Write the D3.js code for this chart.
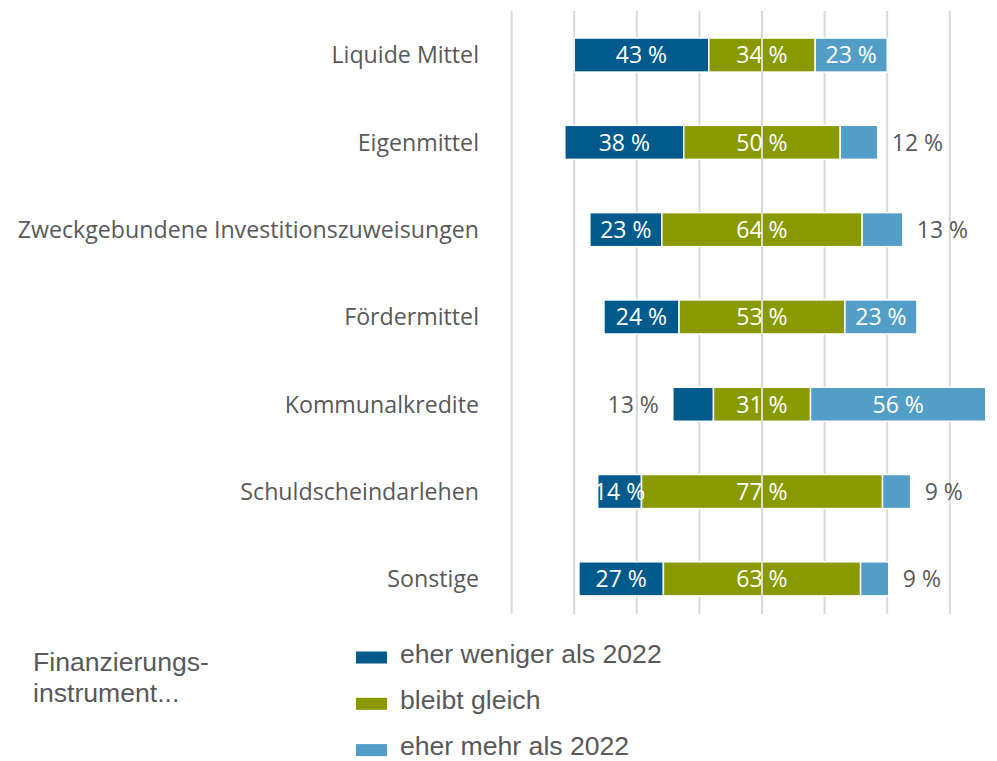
<!DOCTYPE html>
<html>
<head>
<meta charset="utf-8">
<script src="https://cdn.jsdelivr.net/npm/d3@7"></script>
<style>
  body { margin: 0; background: #fff; }
  svg text { fill: #595959; }
</style>
</head>
<body>
<div id="chart"></div>
<script>
// data
var categories = ["Liquide Mittel", "Eigenmittel", "Zweckgebundene Investitionszuweisungen",
  "Fördermittel", "Kommunalkredite", "Schuldscheindarlehen", "Sonstige"];
var weniger = [43, 38, 23, 24, 13, 14, 27];
var gleich = [34, 50, 64, 53, 31, 77, 63];
var mehr = [23, 12, 13, 23, 56, 9, 9];
var seriesNames = ["eher weniger als 2022", "bleibt gleich", "eher mehr als 2022"];
var seriesColors = ["#005b8c", "#889a00", "#529ec6"];
var gridTicks = [-80, -60, -40, -20, 0, 20, 40, 60];

var svgWidth = 997;
var svgHeight = 761;

var svg = d3.select("#chart")
  .append("svg")
  .attr("width", svgWidth)
  .attr("height", svgHeight);

// diverging scale, 0 = middle of the "bleibt gleich" segment
var x = d3.scaleLinear()
  .domain([-80, 80])
  .range([511.6, 1012.4]);

var y = d3.scaleBand()
  .domain(categories)
  .range([11.4, 622.5])
  .paddingInner(0.61)
  .paddingOuter(0.305);

var gridTop = 11;
var gridBottom = 614;

// build segments for each row
var rows = categories.map(function(c, i) {
  var vals = [weniger[i], gleich[i], mehr[i]];
  var start = -(weniger[i] + gleich[i] / 2);
  var segs = [];
  vals.forEach(function(v, k) {
    segs.push({cat: c, k: k, v: v, x0: start, x1: start + v});
    start += v;
  });
  return segs;
});
var segments = d3.merge(rows);

// gridlines
svg.append("g")
  .selectAll("line")
  .data(gridTicks)
  .enter()
  .append("line")
  .attr("x1", d => x(d))
  .attr("x2", d => x(d))
  .attr("y1", gridTop)
  .attr("y2", gridBottom)
  .attr("stroke", "#d9d9d9")
  .attr("stroke-width", 2);

// bars
svg.append("g")
  .selectAll("rect")
  .data(segments)
  .enter()
  .append("rect")
  .attr("x", d => x(d.x0))
  .attr("y", d => y(d.cat))
  .attr("width", d => x(d.x1) - x(d.x0))
  .attr("height", y.bandwidth())
  .attr("fill", d => seriesColors[d.k])
  .attr("stroke", "#fff")
  .attr("stroke-width", 1.5);

// center line sits on top of the bars
svg.append("line")
  .attr("x1", x(0))
  .attr("x2", x(0))
  .attr("y1", gridTop)
  .attr("y2", gridBottom)
  .attr("stroke", "#d9d9d9")
  .attr("stroke-width", 2);

// value labels, small ones go outside
var minInside = 14;
svg.append("g")
  .selectAll("text")
  .data(segments)
  .enter()
  .append("text")
  .attr("x", function(d) {
    if (d.v >= minInside) return x((d.x0 + d.x1) / 2);
    return d.k === 0 ? x(d.x0) - 14 : x(d.x1) + 14;
  })
  .attr("y", d => y(d.cat) + y.bandwidth() / 2)
  .attr("dy", "0.36em")
  .attr("text-anchor", function(d) {
    if (d.v >= minInside) return "middle";
    return d.k === 0 ? "end" : "start";
  })
  .style("font-family", "'Open Sans', sans-serif")
  .style("font-size", "23px")
  .style("fill", d => d.v >= minInside ? "#fff" : "#595959")
  .text(d => d.v + " %");

// category labels
svg.append("g")
  .selectAll("text")
  .data(categories)
  .enter()
  .append("text")
  .attr("x", 479)
  .attr("y", d => y(d) + y.bandwidth() / 2)
  .attr("dy", "0.36em")
  .attr("text-anchor", "end")
  .style("font-family", "'Open Sans', sans-serif")
  .style("font-size", "23.2px")
  .text(d => d);

// legend title
var legendTitle = svg.append("text")
  .attr("x", 33)
  .attr("y", 671)
  .style("font-family", "'Liberation Sans', Arial, sans-serif")
  .style("font-size", "26.6px");
legendTitle.append("tspan").attr("x", 33).text("Finanzierungs-");
legendTitle.append("tspan").attr("x", 33).attr("dy", 31).text("instrument...");

// legend items
var legend = svg.append("g")
  .selectAll("g")
  .data(seriesNames)
  .enter()
  .append("g")
  .attr("transform", (d, i) => `translate(356, ${651.5 + i * 46.3})`);

legend.append("rect")
  .attr("width", 31)
  .attr("height", 12)
  .attr("fill", (d, i) => seriesColors[i]);

legend.append("text")
  .attr("x", 44)
  .attr("y", 11)
  .style("font-family", "'Liberation Sans', Arial, sans-serif")
  .style("font-size", "26.6px")
  .text(d => d);
</script>
</body>
</html>
